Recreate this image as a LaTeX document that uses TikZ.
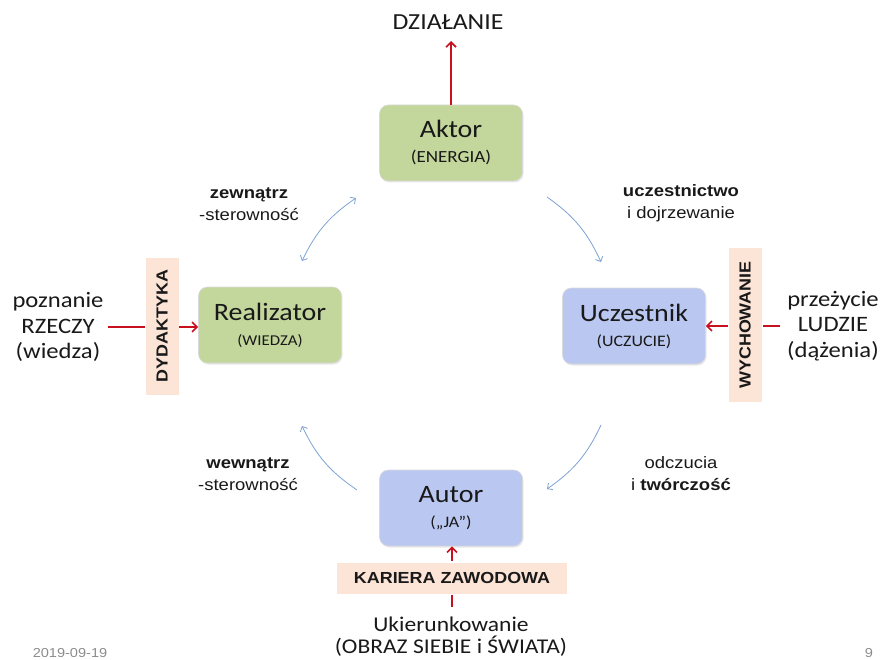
\documentclass[tikz,border=0pt]{standalone}
\usepackage{fontspec}
\setmainfont{Carlito}[FakeStretch=1.12]
\newfontfamily\arialf{Liberation Sans}[FakeStretch=1.12]
\usetikzlibrary{arrows.meta,shadows}

\definecolor{boxgreen}{RGB}{195,214,155}
\definecolor{boxblue}{RGB}{186,199,240}
\definecolor{bandpeach}{RGB}{252,228,214}
\definecolor{flowred}{RGB}{200,16,30}
\definecolor{cycleblue}{RGB}{125,162,212}
\definecolor{footgray}{RGB}{140,140,140}

\tikzset{
  rolebox/.style={rounded corners=9pt, minimum width=143pt, minimum height=76pt,
    align=center, draw=white!85!black, line width=0.6pt,
    drop shadow={opacity=0.18, shadow xshift=1pt, shadow yshift=-1.5pt},
    font=\fontsize{25}{25}\selectfont, text=black!90},
  band/.style={fill=bandpeach, draw=none, inner sep=0pt, text=black!90,
    font=\arialf\bfseries\fontsize{16}{16}\selectfont},
  flow/.style={draw=flowred, line width=1.8pt},
  flowarrow/.style={flow, -{Straight Barb[length=5pt,width=10pt,line width=1.6pt]}},
  cycle/.style={draw=cycleblue, line width=0.8pt, bend left=15,
    -{Straight Barb[length=4pt,width=8pt]}},
  sidetext/.style={align=center, font=\fontsize{22}{25.5}\selectfont, text=black!90},
  cyclelabel/.style={align=center, font=\arialf\fontsize{16.5}{22}\selectfont, text=black!90},
  foot/.style={font=\arialf\fontsize{13}{13}\selectfont, text=footgray}
}

\begin{document}
\begin{tikzpicture}[x=1pt,y=1pt]
\useasboundingbox (0,0) rectangle (882,-660);

% four roles
\node[rolebox, fill=boxgreen] (aktor) at (451,-143)
  {Aktor\\{\fontsize{17}{25}\selectfont (ENERGIA)}};
\node[rolebox, fill=boxgreen] (real) at (270,-325)
  {Realizator\\{\fontsize{15}{23}\selectfont (WIEDZA)}};
\node[rolebox, fill=boxblue] (ucz) at (634,-326)
  {Uczestnik\\{\fontsize{16}{24}\selectfont (UCZUCIE)}};
\node[rolebox, fill=boxblue] (autor) at (451,-508)
  {Autor\\{\fontsize{16}{24}\selectfont („JA”)}};

% influence bands
\node[band, minimum width=33pt, minimum height=137pt] (dyd) at (162,-326)
  {\rotatebox{90}{DYDAKTYKA}};
\node[band, minimum width=33pt, minimum height=154pt] (wych) at (745,-325)
  {\rotatebox{90}{WYCHOWANIE}};
\node[band, minimum width=230pt, minimum height=31pt] (kar) at (452,-578)
  {KARIERA ZAWODOWA};

% outer texts
\node[sidetext, font=\fontsize{23}{24}\selectfont] (dzial) at (448,-22) {DZIAŁANIE};
\node[sidetext] (pozn) at (58,-327) {poznanie\\RZECZY\\(wiedza)};
\node[sidetext] (przez) at (833,-326) {przeżycie\\LUDZIE\\(dążenia)};
\node[sidetext, font=\fontsize{21}{22}\selectfont] (ukier) at (451,-637)
  {Ukierunkowanie\\(OBRAZ SIEBIE i ŚWIATA)};

% red inputs and output
\coordinate (dzialbot) at (451,-41);
\draw[flowarrow] (aktor.north) -- (dzialbot);

\coordinate (lin1) at (108,-327);
\coordinate (lin2) at (145,-327);
\coordinate (lin3) at (179,-327);
\draw[flow] (lin1) -- (lin2);
\draw[flowarrow] (lin3) -- (real.west |- lin3);

\coordinate (rin1) at (780,-326);
\coordinate (rin2) at (763,-326);
\coordinate (rin3) at (728,-326);
\draw[flow] (rin1) -- (rin2);
\draw[flowarrow] (rin3) -- (ucz.east |- rin3);

\coordinate (bin1) at (452,-607);
\coordinate (bin2) at (452,-595);
\coordinate (bin3) at (452,-561);
\draw[flow] (bin1) -- (bin2);
\draw[flowarrow] (bin3) -- (autor.south -| bin3);

% cycle arrows
\coordinate (tl1) at (302,-261);
\coordinate (tl2) at (356,-198);
\coordinate (tr1) at (547,-197);
\coordinate (tr2) at (601,-262);
\coordinate (br1) at (601,-425);
\coordinate (br2) at (547,-489);
\coordinate (bl1) at (357,-490);
\coordinate (bl2) at (302,-426);
\draw[cycle, {Straight Barb[length=4pt,width=8pt]}-{Straight Barb[length=4pt,width=8pt]}] (tl1) to (tl2);
\draw[cycle] (tr1) to (tr2);
\draw[cycle] (br1) to (br2);
\draw[cycle] (bl1) to (bl2);

% cycle labels
\node[cyclelabel] (zew) at (249,-204) {\textbf{zewnątrz}\\-sterowność};
\node[cyclelabel] (uczl) at (681,-203) {\textbf{uczestnictwo}\\i dojrzewanie};
\node[cyclelabel] (wew) at (248,-474) {\textbf{wewnątrz}\\-sterowność};
\node[cyclelabel] (odcz) at (681,-474) {odczucia\\i \textbf{twórczość}};

% footer
\node[foot] (date) at (70,-653) {2019-09-19};
\node[foot] (page) at (869,-653) {9};
\end{tikzpicture}
\end{document}
